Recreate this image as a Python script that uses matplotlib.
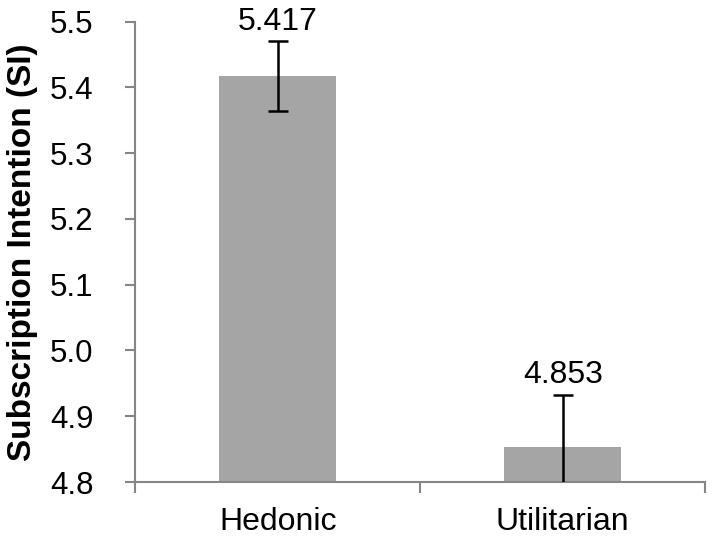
import matplotlib
matplotlib.use("Agg")
import matplotlib.pyplot as plt
import numpy as np

categories = ["Hedonic", "Utilitarian"]
means = [5.417, 4.853]
err_lower = [0.053, 0.08]
err_upper = [0.053, 0.08]
value_labels = ["5.417", "4.853"]
yticks = [4.8, 4.9, 5.0, 5.1, 5.2, 5.3, 5.4, 5.5]

plt.rcParams['font.family'] = ['Liberation Sans', 'DejaVu Sans']

fig = plt.figure(figsize=(7.16, 5.4), dpi=100)
ax = fig.add_axes([0.189, 0.1074, 0.796, 0.8526])

x = np.arange(len(categories)) + 0.5
spine_c = "#868686"
ax.bar(x, means, width=0.41, color="#a5a5a5", zorder=2)
ax.errorbar(x, means, yerr=[err_lower, err_upper], fmt='none', ecolor='black',
            elinewidth=1.8, capsize=7, capthick=1.8, zorder=3)

for xi, m, eu, lab in zip(x, means, err_upper, value_labels):
    ax.annotate(lab, (xi, m + eu), xytext=(0, 3), textcoords='offset points',
                ha='center', va='bottom', fontsize=23, color='black')

ax.set_ylim(4.8, 5.5)
ax.set_xlim(0, len(categories))
ax.set_yticks(yticks)
ax.set_yticklabels([f"{t:.1f}" for t in yticks], fontsize=22.5)
ax.set_xticks(x)
ax.set_xticklabels(categories, fontsize=23)
ax.tick_params(axis='x', length=0, pad=18)
ax.set_xticks(np.arange(len(categories) + 1), minor=True)
ax.tick_params(axis='x', which='minor', length=8, width=1.5, color=spine_c, direction='out')
ax.tick_params(axis='y', length=7, width=1.5, color=spine_c, direction='out', pad=23)
for lab in ax.get_yticklabels():
    lab.set_horizontalalignment('right')

for s in ['top', 'right']:
    ax.spines[s].set_visible(False)
for s in ['left', 'bottom']:
    ax.spines[s].set_color(spine_c)
    ax.spines[s].set_linewidth(1.5)

ax.set_ylabel("Subscription Intention (SI)", fontsize=24, fontweight='bold')
ax.yaxis.set_label_coords(-0.171, 0.5)

fig.savefig("out.png", dpi=100)
